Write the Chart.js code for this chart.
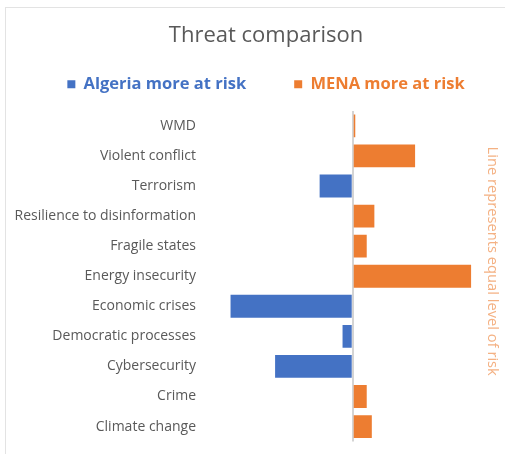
<!DOCTYPE html>
<html>
<head>
<meta charset="utf-8">
<title>Threat comparison</title>
<script src="https://cdn.jsdelivr.net/npm/chart.js@4.4.1/dist/chart.umd.min.js"></script>
<style>
  html, body { margin: 0; padding: 0; background: #fff; overflow: hidden; }
  #wrap { position: relative; width: 505px; height: 454px; }
  #frame { position: absolute; left: 5px; top: 7px; width: 540px; height: 480px; border: 1px solid #e3e3e3; }
  #chart { position: absolute; left: 0; top: 0; }
</style>
</head>
<body>
<div id="wrap">
  <div id="frame"></div>
  <canvas id="chart" width="505" height="454"></canvas>
</div>
<script>
// data
const threats = [
  'WMD', 'Violent conflict', 'Terrorism', 'Resilience to disinformation',
  'Fragile states', 'Energy insecurity', 'Economic crises',
  'Democratic processes', 'Cybersecurity', 'Crime', 'Climate change'
];
const algeriaMoreAtRisk = [null, null, -2.6, null, null, null, -9.6, -0.8, -6.1, null, null];
const menaMoreAtRisk = [0.2, 4.9, null, 1.7, 1.1, 9.3, null, null, null, 1.1, 1.5];
const axisMin = -12;
const axisMax = 10;
const noteText = 'Line represents equal level of risk';

const BLUE = '#4472c4';
const ORANGE = '#ed7d31';
const NOTE = '#f4b183';
const TEXT = '#595959';

Chart.defaults.font.family = "'Open Sans', sans-serif";
Chart.defaults.color = TEXT;

// rotated note next to the zero line, in the space kept by the right axis
const equalRiskNote = {
  id: 'equalRiskNote',
  afterDraw(chart) {
    const { ctx, chartArea } = chart;
    ctx.save();
    ctx.translate(chartArea.right + 12, (chartArea.top + chartArea.bottom) / 2 - 15);
    ctx.rotate(Math.PI / 2);
    ctx.font = "14.7px 'Open Sans', sans-serif";
    ctx.fillStyle = NOTE;
    ctx.textAlign = 'center';
    ctx.textBaseline = 'middle';
    ctx.fillText(noteText, 0, 0);
    ctx.restore();
  }
};

new Chart(document.getElementById('chart'), {
  type: 'bar',
  data: {
    labels: threats,
    datasets: [
      {
        label: 'Algeria more at risk',
        data: algeriaMoreAtRisk,
        backgroundColor: BLUE,
        grouped: false,
        categoryPercentage: 1,
        barPercentage: 0.76
      },
      {
        label: 'MENA more at risk',
        data: menaMoreAtRisk,
        backgroundColor: ORANGE,
        grouped: false,
        categoryPercentage: 1,
        barPercentage: 0.76
      }
    ]
  },
  plugins: [equalRiskNote],
  options: {
    indexAxis: 'y',
    responsive: false,
    animation: false,
    layout: { padding: { left: 15, right: -12, top: 0, bottom: 8.3 } },
    plugins: {
      tooltip: { enabled: false },
      title: {
        display: true,
        text: 'Threat comparison',
        color: TEXT,
        font: { size: 22, weight: 'normal' },
        padding: { top: 23, bottom: -21.4 }
      },
      legend: {
        display: true,
        labels: {
          boxWidth: 8,
          boxHeight: 8,
          padding: 48,
          font: { size: 16.5, weight: 'bold' },
          generateLabels: (chart) => chart.data.datasets.map((ds, i) => ({
            text: ds.label,
            fillStyle: ds.backgroundColor,
            strokeStyle: ds.backgroundColor,
            lineWidth: 0,
            fontColor: ds.backgroundColor,
            hidden: false,
            datasetIndex: i
          }))
        }
      }
    },
    scales: {
      x: {
        position: 'top',
        min: axisMin,
        max: axisMax,
        z: 1,
        ticks: { display: false, stepSize: 2 },
        border: { display: false },
        grid: {
          drawTicks: false,
          lineWidth: 2,
          color: (ctx) => (ctx.tick && ctx.tick.value === 0 ? '#d4d4d4' : 'rgba(0,0,0,0)')
        },
        afterFit: (scale) => { scale.height = 8.3; }
      },
      y: {
        position: 'left',
        grid: { display: false, drawTicks: false },
        border: { display: false },
        ticks: { padding: 4, color: TEXT, font: { size: 14 } },
        afterFit: (scale) => { scale.width = 200 - 15; }
      },
      y2: {
        type: 'category',
        position: 'right',
        grid: { display: false, drawTicks: false },
        border: { display: false },
        ticks: { display: false },
        afterFit: (scale) => { scale.width = 37; }
      }
    }
  }
});
</script>
</body>
</html>
